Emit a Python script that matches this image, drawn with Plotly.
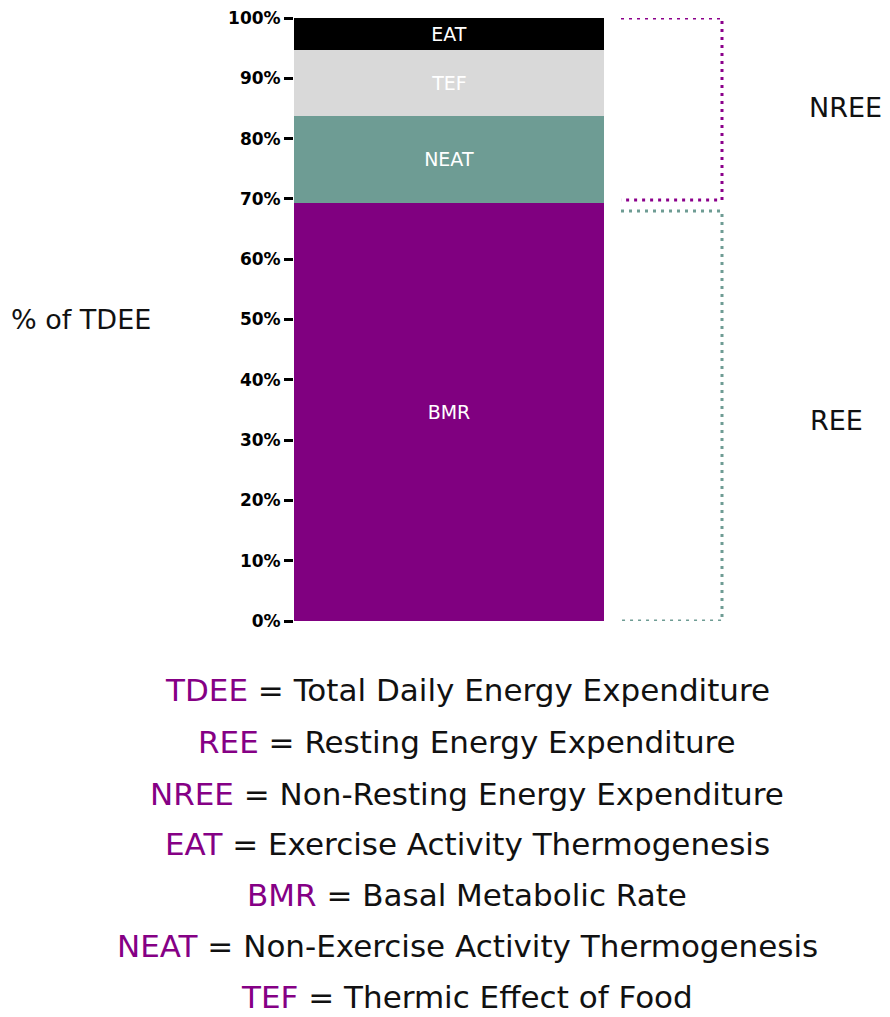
import plotly.graph_objects as go

# ---- data ----
components = ["BMR", "NEAT", "TEF", "EAT"]
shares = [69.4, 14.4, 10.9, 5.3]
colors = ["#800080", "#6e9c94", "#d9d9d9", "#000000"]

tick_values = [0, 10, 20, 30, 40, 50, 60, 70, 80, 90, 100]
tick_labels = [f"{v}%" for v in tick_values]

bracket_names = ["NREE", "REE"]
bracket_top = [100, 68.0]
bracket_bottom = [69.8, 0]
bracket_colors = ["#8b008b", "#6e9c94"]
bracket_label_y = [85.1, 33.2]

glossary_abbr = ["TDEE", "REE", "NREE", "EAT", "BMR", "NEAT", "TEF"]
glossary_text = [
    "Total Daily Energy Expenditure",
    "Resting Energy Expenditure",
    "Non-Resting Energy Expenditure",
    "Exercise Activity Thermogenesis",
    "Basal Metabolic Rate",
    "Non-Exercise Activity Thermogenesis",
    "Thermic Effect of Food",
]

FONT = "DejaVu Sans"
W, H = 890, 1017
ML, MT, MB = 294, 18, 396
PW = W - ML
PH = H - MT - MB
BAR_PX = 310

fig = go.Figure()
for name, val, col in zip(components, shares, colors):
    fig.add_trace(go.Bar(
        x=[0], y=[val], name=name, width=1,
        marker=dict(color=col, line=dict(width=0)),
        text=[name], textposition="inside", insidetextanchor="middle",
        textfont=dict(color="white", size=19, family=FONT),
        hoverinfo="name+y",
    ))

def px_to_x(px):
    return (px - ML) / BAR_PX - 0.5

bx0 = px_to_x(621)
bx1 = px_to_x(722)
for name, top, bot, col, ly in zip(bracket_names, bracket_top, bracket_bottom,
                                   bracket_colors, bracket_label_y):
    fig.add_trace(go.Scatter(
        x=[bx0, bx1, bx1, bx0], y=[top, top, bot, bot], mode="lines",
        line=dict(color=col, width=3, dash="3px,5px"),
        hoverinfo="skip", showlegend=False,
    ))
    fig.add_annotation(x=px_to_x(845 if name == "NREE" else 836), y=ly,
                       xref="x", yref="y", xanchor="center", yanchor="middle",
                       text=name, showarrow=False,
                       font=dict(size=27, color="#111111", family=FONT))

fig.add_annotation(x=(9 - ML) / PW, y=50, xref="paper", yref="y",
                   xanchor="left", yanchor="middle", text="% of TDEE",
                   showarrow=False,
                   font=dict(size=27, color="#111111", family=FONT))

line_y = [690, 742, 794, 844, 895, 946, 997]
for abbr, txt, py in zip(glossary_abbr, glossary_text, line_y):
    fig.add_annotation(
        x=(467 - ML) / PW, y=(MT + PH - py) / PH, xref="paper", yref="paper",
        xanchor="center", yanchor="middle",
        text=f"<span style='color:#850085'>{abbr}</span> = {txt}",
        showarrow=False, font=dict(size=31, color="#111111", family=FONT),
    )

fig.update_layout(
    width=W, height=H, barmode="stack", showlegend=False,
    margin=dict(l=ML, r=0, t=MT, b=MB, pad=0),
    paper_bgcolor="white", plot_bgcolor="white",
    xaxis=dict(visible=False, range=[-0.5, -0.5 + PW / BAR_PX]),
    yaxis=dict(range=[0, 100], tickvals=tick_values, ticktext=tick_labels,
               ticks="outside", ticklen=9, tickwidth=3, tickcolor="black",
               showgrid=False, zeroline=False, showline=False,
               tickfont=dict(size=17, color="black", family=FONT, weight="bold")),
    font=dict(family=FONT),
)

fig.write_html("out.html")
